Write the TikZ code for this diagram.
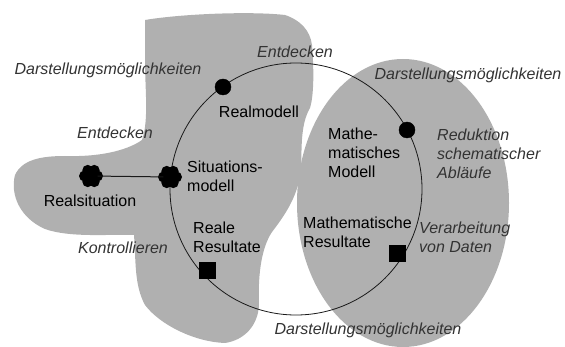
\documentclass[tikz,border=0pt]{standalone}
\usepackage{fontspec}
\setmainfont{Liberation Sans}
\definecolor{blobgray}{RGB}{176,176,176}
\begin{document}
\begin{tikzpicture}[x=1pt, y=-1pt,
		every node/.style = {font=\fontsize{16}{19}\selectfont, inner sep=0pt},
		label/.style = {text=black},
		remark/.style = {text=black!80, font=\fontsize{16}{19}\selectfont\itshape},
		dot/.style = {draw, circle, fill=black, minimum size=16pt},
		result/.style = {draw, rectangle, fill=black, minimum size=16pt},
		flower/.style = {circle, fill=black, minimum size=13pt}] 
	\useasboundingbox (0,0) rectangle (565,347);
	% gray areas
	\fill[blobgray] (145,20) .. controls (180,14) and (250,11) .. (285,15)
		.. controls (300,20) and (310,30) .. (312,45)
		.. controls (314,70) and (314,95) .. (310,108)
		.. controls (300,125) and (302,150) .. (301,168)
		.. controls (299,195) and (285,215) .. (272,232)
		.. controls (260,250) and (258,280) .. (259,305)
		.. controls (258,325) and (245,340) .. (225,343)
		.. controls (195,342) and (160,325) .. (145,305)
		.. controls (134,285) and (136,260) .. (134,235)
		.. controls (110,234) and (70,238) .. (45,229)
		.. controls (20,218) and (10,195) .. (15,175)
		.. controls (22,160) and (40,156) .. (65,156)
		.. controls (95,157) and (125,152) .. (142,140)
		.. controls (149,120) and (145,90) .. (145,60) -- cycle;
	\fill[blobgray] (403,203) ellipse (106 and 144);
	% cycle
	\draw[black!90, line width=0.8pt] (296,189) circle (126);
	\node[flower] (realsit) at (91,176) {};
	\node[flower] (sitmod) at (170,177) {};
	\foreach \f in {realsit, sitmod}
		\foreach \a in {0,60,...,300}
			\fill (\f.center) ++(\a:6.5) circle (5.5);
	\draw[black!90, line width=1pt] (realsit) -- (sitmod);
	\node[dot] (realmod) at (223,87) {};
	\node[dot] (mathmod) at (407,130) {};
	\node[result] (realres) at (207,270) {};
	\node[result] (mathres) at (397,253) {};
	% labels
	\node[label] (t1) at (90,201) {Realsituation};
	\node[label, anchor=west, align=left] (t2) at (187,176.5) {Situations-\\modell};
	\node[label] (t3) at (259,112) {Realmodell};
	\node[label, anchor=west, align=left] (t4) at (328,152.5) {Mathe-\\matisches\\Modell};
	\node[label, anchor=west, align=left] (t5) at (303,232.5) {Mathematische\\Resultate};
	\node[label, anchor=west, align=left] (t6) at (193,237.5) {Reale\\Resultate};
	% remarks
	\node[remark] (r1) at (108,70) {Darstellungsmöglichkeiten};
	\node[remark] (r2) at (295,52) {Entdecken};
	\node[remark] (r3) at (468,75) {Darstellungsmöglichkeiten};
	\node[remark] (r4) at (115,133) {Entdecken};
	\node[remark, anchor=west, align=left] (r5) at (437,154) {Reduktion\\schematischer\\Abläufe};
	\node[remark, anchor=west, align=left] (r6) at (419,237.5) {Verarbeitung\\von Daten};
	\node[remark] (r7) at (123,248) {Kontrollieren};
	\node[remark] (r8) at (368,330) {Darstellungsmöglichkeiten};
\end{tikzpicture}
\end{document}
